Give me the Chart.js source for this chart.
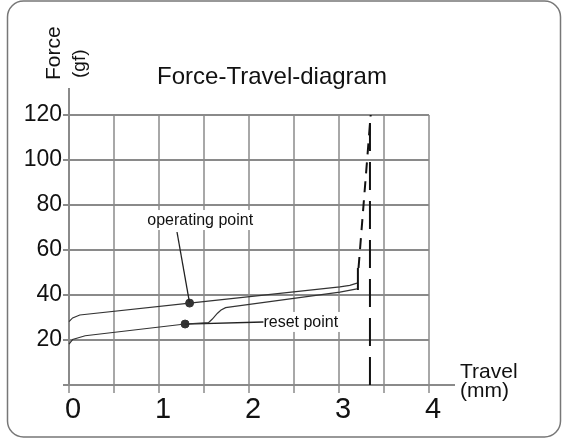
<!DOCTYPE html>
<html>
<head>
<meta charset="utf-8">
<script src="https://cdn.jsdelivr.net/npm/chart.js@4.4.1/dist/chart.umd.min.js"></script>
<style>
  body { margin: 0; background: #fff; }
  canvas { display: block; }
</style>
</head>
<body>
<canvas id="myChart" width="563" height="440"></canvas>
<script>
const ctx = document.getElementById('myChart');

// values (travel in mm, force in gf)
const travelTicks = [0, 1, 2, 3, 4]
const forceTicks = [20, 40, 60, 80, 100, 120]

const operatingTravel = [0, 0.04, 0.12, 1.34, 3.01, 3.12, 3.20]
const operatingForce = [28.2, 29.8, 31.1, 36.4, 43.6, 44.3, 45.3]

const resetTravel = [0, 0.04, 0.18, 1.29, 1.55, 1.59, 1.65, 1.69, 1.74, 1.82, 3.01, 3.20]
const resetForce = [18.2, 20.2, 21.9, 27.1, 27.7, 29.2, 31.9, 33.3, 34.4, 34.8, 41.3, 42.7]

const riseTravel = [3.20, 3.21]
const riseForce = [42.7, 52.0]

const slopeTravel = [3.217, 3.352]
const slopeForce = [52.0, 120]

const stopTravel = [3.344, 3.344]
const stopForce = [0, 118]

const pointNames = ['operating point', 'reset point']
const pointTravel = [1.34, 1.29]
const pointForce = [36.4, 27.1]
const labelTravel = [0.87, 2.16]
const labelForce = [71.1, 25.8]
const leaderTravel = [1.2, 2.16]
const leaderForce = [68.0, 28.0]

const fontFamily = "'Liberation Sans', Arial, sans-serif"

function toXY(xs, ys) {
    return xs.map((x, i) => ({ x: x, y: ys[i] }))
}

function lineSet(xs, ys, color, width, dash) {
    return {
        data: toXY(xs, ys),
        showLine: true,
        borderColor: color,
        borderWidth: width,
        borderDash: dash || [],
        pointRadius: 0,
        tension: 0,
        clip: false
    }
}

const decor = {
    id: 'decor',
    beforeDatasetsDraw(chart) {
        const c = chart.ctx
        const xs = chart.scales.x
        const ys = chart.scales.y
        const area = chart.chartArea
        c.save()
        // axis line extensions
        c.strokeStyle = '#8a8a8a'
        c.lineWidth = 2
        c.beginPath()
        c.moveTo(area.right, area.bottom)
        c.lineTo(455, area.bottom)
        c.moveTo(area.left, area.top)
        c.lineTo(area.left, 88)
        c.stroke()
        // point labels on white
        c.font = '16px ' + fontFamily
        c.textBaseline = 'alphabetic'
        c.textAlign = 'left'
        pointNames.forEach((name, i) => {
            const px = xs.getPixelForValue(labelTravel[i])
            const py = ys.getPixelForValue(labelForce[i])
            const w = c.measureText(name).width
            c.fillStyle = '#fff'
            c.fillRect(px - 2, py - 15, w + 4, 20)
            c.fillStyle = '#111'
            c.fillText(name, px, py)
        })
        c.restore()
    },
    afterDraw(chart) {
        const c = chart.ctx
        c.save()
        // frame
        c.strokeStyle = '#777'
        c.lineWidth = 1.5
        c.beginPath()
        c.roundRect(7.5, 1, 553, 436, 16)
        c.stroke()
        c.fillStyle = '#111'
        // title
        c.font = '24px ' + fontFamily
        c.textAlign = 'center'
        c.textBaseline = 'alphabetic'
        c.fillText('Force-Travel-diagram', 272, 84)
        // x axis title
        c.textAlign = 'left'
        c.font = '21px ' + fontFamily
        c.fillText('Travel', 460, 378)
        c.fillText('(mm)', 460, 397)
        // y axis title, rotated
        c.translate(60, 80)
        c.rotate(-Math.PI / 2)
        c.fillText('Force', 0, 0)
        c.font = '19px ' + fontFamily
        c.fillText('(gf)', 2, 25)
        c.restore()
    }
}

new Chart(ctx, {
    type: 'scatter',
    data: {
        datasets: [
            lineSet(operatingTravel, operatingForce, '#333', 1.2),
            lineSet(resetTravel, resetForce, '#333', 1.2),
            lineSet(leaderTravel.slice(0, 1).concat(pointTravel[0]), leaderForce.slice(0, 1).concat(pointForce[0]), '#222', 1.3),
            lineSet([pointTravel[1], leaderTravel[1]], [pointForce[1], leaderForce[1]], '#222', 1.3),
            lineSet(riseTravel, riseForce, '#111', 2),
            lineSet(slopeTravel, slopeForce, '#111', 2, [11, 8]),
            lineSet(stopTravel, stopForce, '#111', 2, [28, 11]),
            {
                data: toXY(pointTravel, pointForce),
                pointRadius: 4,
                pointBackgroundColor: '#333',
                pointBorderColor: '#333',
                showLine: false,
                clip: false
            }
        ]
    },
    options: {
        responsive: false,
        animation: false,
        events: [],
        layout: { padding: { top: 115, right: 134, bottom: 0, left: 0 } },
        plugins: {
            legend: { display: false },
            tooltip: { enabled: false },
            title: { display: false }
        },
        scales: {
            x: {
                type: 'linear',
                min: 0,
                max: 4,
                afterFit(scale) { scale.height = 55 },
                ticks: {
                    stepSize: 0.5,
                    autoSkip: false,
                    maxRotation: 0,
                    padding: 0,
                    labelOffset: 4,
                    color: '#111',
                    font: { family: fontFamily, size: 29 },
                    callback: (v) => travelTicks.includes(v) ? String(v) : ''
                },
                grid: { color: '#a8a8a8', lineWidth: 2, tickLength: 8, drawTicks: true },
                border: { color: '#8a8a8a', width: 2 }
            },
            y: {
                type: 'linear',
                min: 0,
                max: 120,
                afterFit(scale) { scale.width = 69 },
                ticks: {
                    stepSize: 20,
                    padding: 1,
                    color: '#111',
                    font: { family: fontFamily, size: 23 },
                    callback: (v) => forceTicks.includes(v) ? String(v) : ''
                },
                grid: { color: '#8a8a8a', lineWidth: 2, tickLength: 6, drawTicks: true },
                border: { color: '#8a8a8a', width: 2 }
            }
        }
    },
    plugins: [decor]
});
</script>
</body>
</html>
